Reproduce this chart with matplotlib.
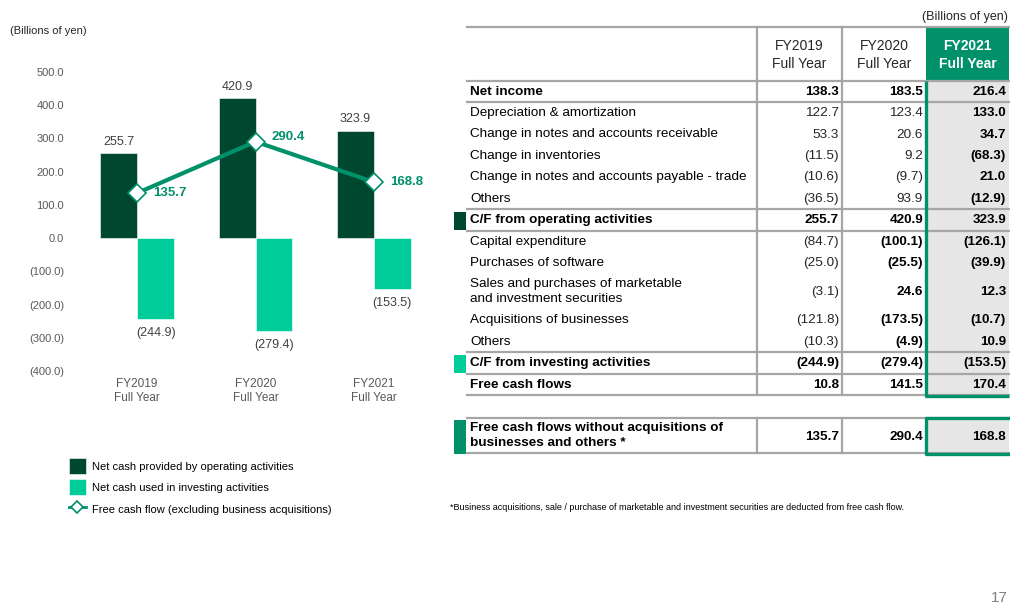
import numpy as np
import matplotlib.pyplot as plt
from matplotlib.patches import Rectangle

plt.rcParams['font.family'] = ['Liberation Sans', 'DejaVu Sans']

# ---- chart data (billions of yen)
years = ['FY2019\nFull Year', 'FY2020\nFull Year', 'FY2021\nFull Year']
operating_cf = [255.7, 420.9, 323.9]
investing_cf = [-244.9, -279.4, -153.5]
fcf_ex_acq = [135.7, 290.4, 168.8]
legend_labels = ['Net cash provided by operating activities',
                 'Net cash used in investing activities',
                 'Free cash flow (excluding business acquisitions)']

# ---- table data
row_labels = ['Net income', 'Depreciation & amortization',
              'Change in notes and accounts receivable', 'Change in inventories',
              'Change in notes and accounts payable - trade', 'Others',
              'C/F from operating activities', 'Capital expenditure',
              'Purchases of software',
              'Sales and purchases of marketable\nand investment securities',
              'Acquisitions of businesses', 'Others',
              'C/F from investing activities', 'Free cash flows']
fy2019 = [138.3, 122.7, 53.3, -11.5, -10.6, -36.5, 255.7, -84.7, -25.0, -3.1, -121.8, -10.3, -244.9, 10.8]
fy2020 = [183.5, 123.4, 20.6, 9.2, -9.7, 93.9, 420.9, -100.1, -25.5, 24.6, -173.5, -4.9, -279.4, 141.5]
fy2021 = [216.4, 133.0, 34.7, -68.3, 21.0, -12.9, 323.9, -126.1, -39.9, 12.3, -10.7, 10.9, -153.5, 170.4]
fcf_label = 'Free cash flows without acquisitions of\nbusinesses and others *'
bold_rows = ['Net income', 'C/F from operating activities',
             'C/F from investing activities', 'Free cash flows']
footnote = ('*Business acquisitions, sale / purchase of marketable and investment '
            'securities are deducted from free cash flow.')

DARK = '#00472F'
LIGHT = '#00CC99'
GREEN = '#00916B'
GRID = '#A6A6A6'
FILL = '#E6E6E6'
GRAY = '#595959'


def fmt(v):
    return f'({abs(v):.1f})' if v < 0 else f'{v:.1f}'


W, H = 1010, 613
fig = plt.figure(figsize=(W / 100, H / 100), dpi=100)

# overlay in pixel coords for the table and free text
ov = fig.add_axes([0, 0, 1, 1])
ov.set_xlim(0, W)
ov.set_ylim(H, 0)
ov.set_axis_off()

# ---- bar chart
ax = fig.add_axes([78 / W, (H - 371) / H, 355 / W, 299 / H])
x = np.arange(len(years))
bw = 0.312
b1 = ax.bar(x - bw / 2, operating_cf, bw, color=DARK, edgecolor='white', linewidth=0.4)
b2 = ax.bar(x + bw / 2, investing_cf, bw, color=LIGHT, edgecolor='white', linewidth=0.4)
ln, = ax.plot(x, fcf_ex_acq, color=GREEN, lw=3, marker='D', ms=9,
              mfc='white', mec=GREEN, mew=1.2, clip_on=False, zorder=3)

ax.set_xlim(-0.5, 2.5)
ax.set_ylim(-400, 500)
yt = np.arange(-400, 501, 100)
ax.set_yticks(yt)
ax.set_yticklabels([fmt(v) for v in yt])
ax.set_xticks(x)
ax.set_xticklabels(years, linespacing=1.2)
ax.tick_params(axis='y', length=0, pad=10, labelsize=8, labelcolor=GRAY)
ax.tick_params(axis='x', length=0, pad=5, labelsize=8.5, labelcolor=GRAY)
for s in ax.spines.values():
    s.set_visible(False)

for xi, v in zip(x, operating_cf):
    ax.annotate(fmt(v), (xi - bw / 2, v), xytext=(0, 4), textcoords='offset points',
                ha='center', va='bottom', fontsize=9, color='#404040')
for xi, v in zip(x, investing_cf):
    ax.annotate(fmt(v), (xi + bw / 2, v), xytext=(0, -5.5), textcoords='offset points',
                ha='center', va='top', fontsize=9, color='#404040')
fcf_dy = [0, 3, 0]
for xi, v, dy in zip(x, fcf_ex_acq, fcf_dy):
    ax.annotate(fmt(v), (xi, v), xytext=(11.5, dy), textcoords='offset points',
                ha='left', va='center', fontsize=9.5, fontweight='bold', color=GREEN)

ov.text(10, 31, '(Billions of yen)', fontsize=8, color='#262626', va='center')

leg = fig.legend([b1, b2, ln], legend_labels, loc='upper left',
                 bbox_to_anchor=(69 / W, 1 - 458 / H), frameon=False, fontsize=8,
                 handlelength=1.5, handleheight=1.83, handletextpad=0.6,
                 labelspacing=0.5, borderpad=0, borderaxespad=0, numpoints=1)
leg.legend_handles[2].set_markersize(6)
leg.legend_handles[2].set_linewidth(2)

# ---- table
t_left, t_right = 467, 1009
col_x = [757, 842, 926, t_right]
top, head_bot = 27, 81
row_h = [21.4] * len(row_labels)
row_h[9] = 36
edges = head_bot + np.concatenate([[0], np.cumsum(row_h)])
bottom = edges[-1]

ov.add_patch(Rectangle((col_x[2], head_bot), t_right - col_x[2], bottom - head_bot,
                       color=FILL, lw=0, zorder=1))
ov.add_patch(Rectangle((col_x[2], top), t_right - col_x[2], head_bot - top,
                       color=GREEN, lw=0, zorder=1))
for yy in [top] + [edges[i] for i in (0, 1, 6, 7, 12, 13, 14)]:
    ov.plot([t_left, t_right], [yy, yy], color=GRID, lw=1.6, zorder=2)
for cx in col_x[:2]:
    ov.plot([cx, cx], [top, bottom], color=GRID, lw=1.6, zorder=2)
ov.plot([col_x[2], col_x[2], t_right], [head_bot, bottom + 1, bottom + 1],
        color=GREEN, lw=2.4, zorder=3, solid_capstyle='butt')

head_y = (top + head_bot) / 2
for i, yr in enumerate(years):
    cx = (col_x[i] + col_x[i + 1]) / 2
    ov.text(cx, head_y + 1, yr, ha='center', va='center', fontsize=10,
            linespacing=1.3, color='white' if i == 2 else '#262626',
            fontweight='bold' if i == 2 else 'normal', zorder=4)
ov.text(1008, 17, '(Billions of yen)', ha='right', va='center', fontsize=9, color='#262626')

for r, lab in enumerate(row_labels):
    cy = (edges[r] + edges[r + 1]) / 2
    rb = lab in bold_rows
    ov.text(470, cy, lab, ha='left', va='center', fontsize=9.7, linespacing=1.35,
            fontweight='bold' if rb else 'normal', color='black', zorder=4)
    vals = [fy2019[r], fy2020[r], fy2021[r]]
    for c, v in enumerate(vals):
        b = rb or c == 2 or (c == 1 and r >= 7)
        ov.text(col_x[c + 1] - 3, cy, fmt(v), ha='right', va='center', fontsize=9.7,
                fontweight='bold' if b else 'normal',
                color='black' if b else '#262626', zorder=4)

# section markers
for r, colr in [(6, DARK), (12, LIGHT)]:
    ov.add_patch(Rectangle((454, edges[r] + 3), 12, row_h[r] - 4, color=colr, lw=0))

# second table
t2_top, t2_bot = 418, 453
ov.add_patch(Rectangle((col_x[2], t2_top), t_right - col_x[2], t2_bot - t2_top,
                       color=FILL, lw=0, zorder=1))
for yy in (t2_top, t2_bot):
    ov.plot([t_left, t_right], [yy, yy], color=GRID, lw=1.6, zorder=2)
for cx in col_x[:2]:
    ov.plot([cx, cx], [t2_top, t2_bot], color=GRID, lw=1.6, zorder=2)
ov.plot([t_right, col_x[2], col_x[2], t_right], [t2_top, t2_top, t2_bot + 1, t2_bot + 1],
        color=GREEN, lw=2.4, zorder=3)
ov.add_patch(Rectangle((454, t2_top + 2), 12, t2_bot - t2_top - 1, color=GREEN, lw=0))
cy2 = (t2_top + t2_bot) / 2
ov.text(470, cy2, fcf_label, ha='left', va='center', fontsize=9.7, linespacing=1.3,
        fontweight='bold', zorder=4)
for c, v in enumerate(fcf_ex_acq):
    ov.text(col_x[c + 1] - 3, cy2 + 1, fmt(v), ha='right', va='center', fontsize=9.7,
            fontweight='bold', zorder=4)

ov.text(450, 508, footnote, ha='left', va='center', fontsize=6.5)
ov.text(1008, 598, '17', ha='right', va='center', fontsize=11, color='#7F7F7F')

fig.savefig('out.png', dpi=100)
